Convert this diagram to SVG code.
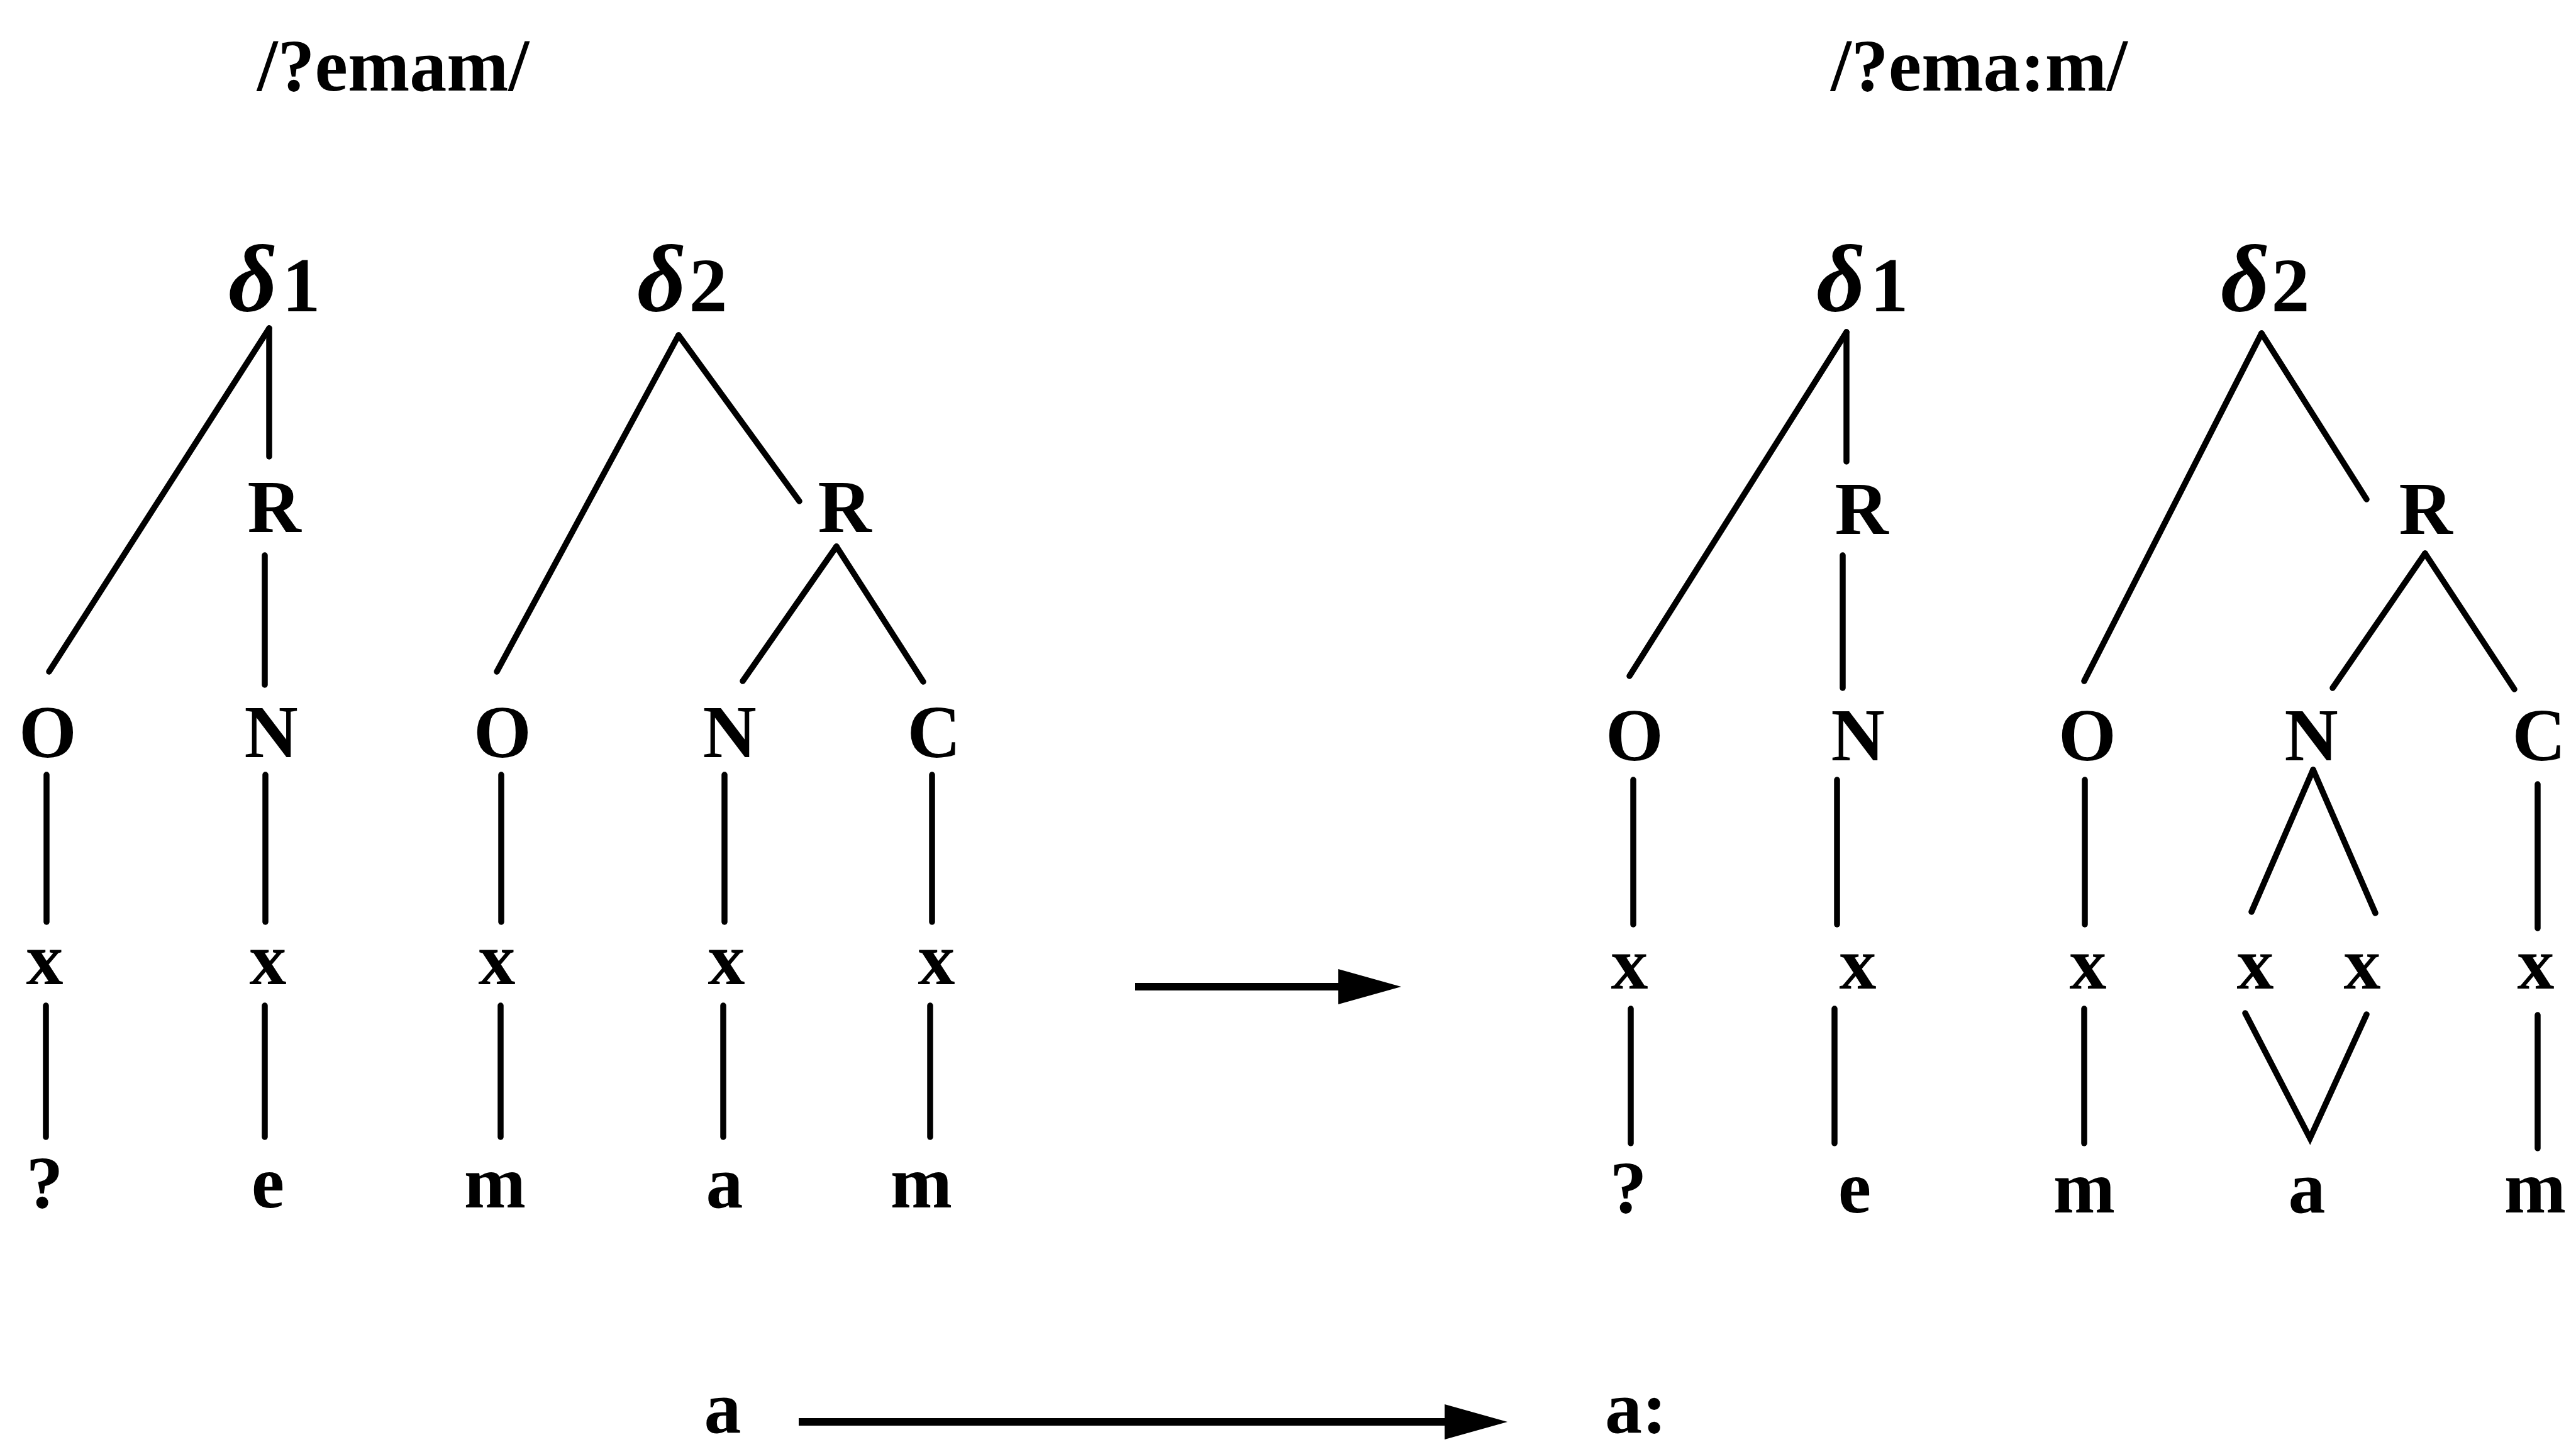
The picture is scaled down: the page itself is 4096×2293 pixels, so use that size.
<svg xmlns="http://www.w3.org/2000/svg" width="4096" height="2293" viewBox="0 0 4096 2293">
<style>
.t{font-family:"Liberation Serif","Times New Roman",serif;font-weight:bold;font-size:118px;text-anchor:middle;fill:#000}
.d{font-style:italic;font-size:152px}
.n{font-size:122px}
.c line,.c polyline{stroke:#000;stroke-width:9.5;stroke-linecap:round;fill:none}
.c .ar{stroke-width:12;stroke-linecap:butt}
</style>
<defs>
<marker id="ah" markerUnits="userSpaceOnUse" viewBox="0 0 100 56" markerWidth="100" markerHeight="56" refX="0" refY="28" orient="auto">
<path d="M0,0 L100,28 L0,56 Z" fill="#000"/>
</marker>
</defs>
<rect width="4096" height="2293" fill="#fff"/>
<g id="connectors" class="c">
<line x1="428" y1="522" x2="428" y2="726"/>
<line x1="428" y1="522" x2="78" y2="1068"/>
<line x1="421" y1="883" x2="421" y2="1089"/>
<line x1="74" y1="1232" x2="74" y2="1466"/>
<line x1="73" y1="1599" x2="73" y2="1808"/>
<line x1="422" y1="1232" x2="422" y2="1466"/>
<line x1="421" y1="1599" x2="421" y2="1808"/>
<line x1="1079" y1="533" x2="790" y2="1068"/>
<line x1="1079" y1="533" x2="1271" y2="797"/>
<line x1="1330" y1="869" x2="1181" y2="1083"/>
<line x1="1330" y1="869" x2="1468" y2="1084"/>
<line x1="797" y1="1232" x2="797" y2="1466"/>
<line x1="796" y1="1599" x2="796" y2="1808"/>
<line x1="1152" y1="1232" x2="1152" y2="1466"/>
<line x1="1150" y1="1599" x2="1150" y2="1808"/>
<line x1="1482" y1="1232" x2="1482" y2="1466"/>
<line x1="1479" y1="1599" x2="1479" y2="1808"/>
<line x1="2936" y1="528" x2="2936" y2="734"/>
<line x1="2936" y1="528" x2="2591" y2="1075"/>
<line x1="2930" y1="883" x2="2930" y2="1094"/>
<line x1="2597" y1="1240" x2="2597" y2="1470"/>
<line x1="2593" y1="1604" x2="2593" y2="1818"/>
<line x1="2921" y1="1240" x2="2921" y2="1470"/>
<line x1="2917" y1="1604" x2="2917" y2="1818"/>
<line x1="3596" y1="530" x2="3314" y2="1083"/>
<line x1="3596" y1="530" x2="3763" y2="794"/>
<line x1="3856" y1="880" x2="3709" y2="1094"/>
<line x1="3856" y1="880" x2="3998" y2="1096"/>
<line x1="3315" y1="1240" x2="3315" y2="1470"/>
<line x1="3314" y1="1604" x2="3314" y2="1818"/>
<line x1="3678" y1="1224" x2="3580" y2="1450"/>
<line x1="3678" y1="1224" x2="3777" y2="1452"/>
<polyline points="3570,1611 3673,1810 3763,1613"/>
<line x1="4035" y1="1247" x2="4035" y2="1476"/>
<line x1="4035" y1="1614" x2="4035" y2="1826"/>
<line class="ar" x1="1805" y1="1569" x2="2128" y2="1569" marker-end="url(#ah)"/>
<line class="ar" x1="1270" y1="2261" x2="2297" y2="2261" marker-end="url(#ah)"/>
</g>
<g id="title-left"><text class="t" x="625" y="144">/?emam/</text></g>
<g id="title-right"><text class="t" x="3147" y="144">/?ema:m/</text></g>
<g id="L-delta1"><text class="t" y="495"><tspan class="d" x="402">δ</tspan><tspan class="n" x="479">1</tspan></text></g>
<g id="L-delta2"><text class="t" y="495"><tspan class="d" x="1052">δ</tspan><tspan class="n" x="1126">2</tspan></text></g>
<g id="L-R1"><text class="t" x="436" y="846">R</text></g>
<g id="L-R2"><text class="t" x="1343" y="846">R</text></g>
<g id="L-O1"><text class="t" x="76" y="1204">O</text></g>
<g id="L-N1"><text class="t" x="431" y="1204">N</text></g>
<g id="L-O2"><text class="t" x="799" y="1204">O</text></g>
<g id="L-N2"><text class="t" x="1160" y="1204">N</text></g>
<g id="L-C2"><text class="t" x="1485" y="1204">C</text></g>
<g id="L-x1"><text class="t" x="71" y="1565">x</text></g>
<g id="L-x2"><text class="t" x="426" y="1565">x</text></g>
<g id="L-x3"><text class="t" x="790" y="1565">x</text></g>
<g id="L-x4"><text class="t" x="1155" y="1565">x</text></g>
<g id="L-x5"><text class="t" x="1489" y="1565">x</text></g>
<g id="L-s1"><text class="t" x="71" y="1920">?</text></g>
<g id="L-s2"><text class="t" x="426" y="1920">e</text></g>
<g id="L-s3"><text class="t" x="787" y="1920">m</text></g>
<g id="L-s4"><text class="t" x="1152" y="1920">a</text></g>
<g id="L-s5"><text class="t" x="1465" y="1920">m</text></g>
<g id="R-delta1"><text class="t" y="495"><tspan class="d" x="2927">δ</tspan><tspan class="n" x="3004">1</tspan></text></g>
<g id="R-delta2"><text class="t" y="495"><tspan class="d" x="3570">δ</tspan><tspan class="n" x="3642">2</tspan></text></g>
<g id="R-R1"><text class="t" x="2960" y="849">R</text></g>
<g id="R-R2"><text class="t" x="3857" y="849">R</text></g>
<g id="R-O1"><text class="t" x="2599" y="1209">O</text></g>
<g id="R-N1"><text class="t" x="2954" y="1209">N</text></g>
<g id="R-O2"><text class="t" x="3319" y="1209">O</text></g>
<g id="R-N2"><text class="t" x="3675" y="1209">N</text></g>
<g id="R-C2"><text class="t" x="4037" y="1209">C</text></g>
<g id="R-x1"><text class="t" x="2591" y="1572">x</text></g>
<g id="R-x2"><text class="t" x="2954" y="1572">x</text></g>
<g id="R-x3"><text class="t" x="3320" y="1572">x</text></g>
<g id="R-x4a"><text class="t" x="3586" y="1572">x</text></g>
<g id="R-x4b"><text class="t" x="3756" y="1572">x</text></g>
<g id="R-x5"><text class="t" x="4032" y="1572">x</text></g>
<g id="R-s1"><text class="t" x="2589" y="1928">?</text></g>
<g id="R-s2"><text class="t" x="2949" y="1928">e</text></g>
<g id="R-s3"><text class="t" x="3314" y="1928">m</text></g>
<g id="R-s4"><text class="t" x="3668" y="1928">a</text></g>
<g id="R-s5"><text class="t" x="4031" y="1928">m</text></g>
<g id="rule-a"><text class="t" x="1149" y="2278">a</text></g>
<g id="rule-a-long"><text class="t" x="2552" y="2278" style="text-anchor:start">a:</text></g>
</svg>
